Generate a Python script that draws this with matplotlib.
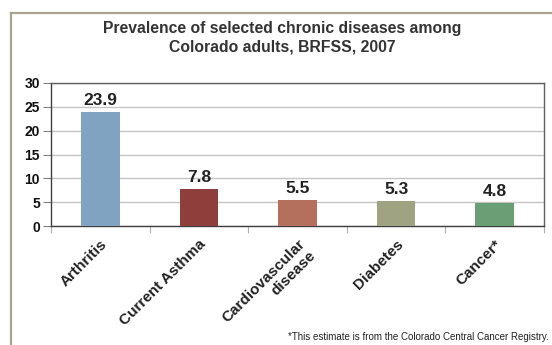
import matplotlib
matplotlib.use("Agg")
import matplotlib.pyplot as plt
from matplotlib.lines import Line2D

categories = ["Arthritis", "Current Asthma", "Cardiovascular\ndisease", "Diabetes", "Cancer*"]
values = [23.9, 7.8, 5.5, 5.3, 4.8]
value_labels = ["23.9", "7.8", "5.5", "5.3", "4.8"]
colors = ["#7fa3c0", "#8e3f3c", "#b5705d", "#a0a382", "#6a9e74"]
yticks = [0, 5, 10, 15, 20, 25, 30]
title = "Prevalence of selected chronic diseases among\nColorado adults, BRFSS, 2007"
footnote = "*This estimate is from the Colorado Central Cancer Registry."

plt.rcParams['font.family'] = ['Liberation Sans', 'DejaVu Sans']

fig = plt.figure(figsize=(5.52, 3.45), dpi=100)
ax = fig.add_axes([51/552, 1-226/345, (544-51)/552, (226-83)/345])

x = list(range(len(categories)))
ax.bar(x, values, width=0.39, color=colors, zorder=3)
for xi, v, lab in zip(x, values, value_labels):
    ax.annotate(lab, (xi, v), xytext=(0, 3), textcoords='offset points',
                ha='center', va='bottom', fontsize=12.5, fontweight='bold', color='#222222')

ax.set_xlim(-0.5, len(categories) - 0.5)
ax.set_ylim(0, 30)
ax.set_yticks(yticks)
ax.set_yticklabels([str(t) for t in yticks], fontsize=10, fontweight='bold', color='#111111')
ax.yaxis.grid(True, color='#c4c4c4', linewidth=1.0, zorder=0)
ax.set_axisbelow(True)
ax.tick_params(axis='y', length=6, width=0.8, color='#808080', pad=2)

ax.set_xticks([i + 0.5 for i in range(-1, len(categories))], minor=False)
ax.set_xticklabels([])
ax.tick_params(axis='x', which='major', length=5, width=0.8, color='#b0b0b0', direction='out')
ax.set_xticks(x, minor=True)
ax.set_xticklabels(categories, minor=True, rotation=45, ha='right', va='top',
                   rotation_mode='anchor', fontsize=11, fontweight='bold', color='#222222',
                   multialignment='right', linespacing=1.15)
ax.tick_params(axis='x', which='minor', length=0, pad=8)

for s in ax.spines.values():
    s.set_color('#404040')
    s.set_linewidth(1.0)
ax.spines['top'].set_color('#606060')
ax.spines['right'].set_color('#606060')

fig.text(282/552, 1-21/345, title, ha='center', va='top', fontsize=11.3,
         fontweight='bold', color='#333333', linespacing=1.3)
fig.text(549/552, 1-342/345, footnote, ha='right', va='bottom', fontsize=7, color='#222222')

fig.add_artist(Line2D([10.5/552, 10.5/552], [0, 1-12.5/345], transform=fig.transFigure,
                      color='#a8a48f', linewidth=1.6))
fig.add_artist(Line2D([10.5/552, 1], [1-12.5/345, 1-12.5/345], transform=fig.transFigure,
                      color='#a8a48f', linewidth=1.6))

fig.savefig("out.png", dpi=100)
